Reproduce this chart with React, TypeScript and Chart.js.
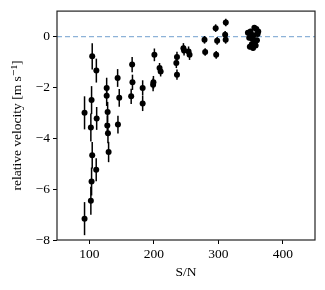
import React, { useEffect, useRef } from "react";
import { Chart, registerables } from "chart.js";

Chart.register(...registerables);

// S/N values
const snr: number[] = [
  92.7, 92.7, 102.5, 102.5, 103.6, 103.6, 104.6, 104.6, 111, 111.5, 110.8,
  127, 127, 128.5, 128, 129, 130, 144, 146.5, 144.5,
  166.5, 167, 165, 182.8, 182.8, 201, 199.5, 199, 209, 210.7,
  236, 235, 236, 246, 247, 254, 255.5,
  278.7, 279.7, 296, 298.3, 296.8, 311.7, 310.7, 311.5,
  346, 348, 350, 352, 349, 355, 357, 359, 361, 360, 354, 356, 351, 358, 353, 362,
];
// relative velocity [m/s]
const velocity: number[] = [
  -3.0, -7.16, -3.58, -6.46, -2.5, -5.7, -0.78, -4.67, -1.34, -3.22, -5.24,
  -2.02, -2.33, -2.97, -3.5, -3.8, -4.54, -1.63, -2.41, -3.46,
  -1.1, -1.8, -2.35, -2.02, -2.63, -0.72, -1.8, -1.9, -1.24, -1.37,
  -0.8, -1.04, -1.5, -0.46, -0.55, -0.59, -0.72,
  -0.13, -0.61, 0.33, -0.17, -0.72, 0.55, 0.07, -0.13,
  0.15, -0.05, 0.2, -0.3, -0.4, 0.05, -0.2, 0.3, 0.1, -0.15, -0.45, 0.35, 0.05, -0.35, -0.1, 0.2,
];
// 1-sigma uncertainty [m/s]
const velocityErr: number[] = [
  0.65, 0.65, 0.55, 0.55, 0.55, 0.55, 0.52, 0.52, 0.47, 0.45, 0.45,
  0.4, 0.4, 0.4, 0.4, 0.4, 0.4, 0.35, 0.35, 0.35,
  0.3, 0.3, 0.3, 0.3, 0.3, 0.25, 0.25, 0.25, 0.2, 0.2,
  0.2, 0.2, 0.2, 0.2, 0.2, 0.2, 0.2,
  0.15, 0.15, 0.15, 0.15, 0.15, 0.15, 0.15, 0.15,
  0.1, 0.1, 0.1, 0.1, 0.1, 0.1, 0.1, 0.1, 0.1, 0.1, 0.1, 0.1, 0.1, 0.1, 0.1, 0.1,
];
const xTicks: number[] = [100, 200, 300, 400];
const yTicks: number[] = [-8, -6, -4, -2, 0];

const FONT = "'Liberation Serif', 'DejaVu Serif', serif";
const FSIZE = 13.5;

const errorBarPlugin = {
  id: "errorBars",
  beforeDatasetsDraw(chart: any) {
    const { ctx, chartArea, scales } = chart;
    const xs = scales.x;
    const ys = scales.y;
    ctx.save();
    ctx.beginPath();
    ctx.rect(chartArea.left, chartArea.top, chartArea.right - chartArea.left, chartArea.bottom - chartArea.top);
    ctx.clip();
    // zero reference line
    const y0 = ys.getPixelForValue(0);
    ctx.strokeStyle = "#8db2d8";
    ctx.lineWidth = 1.2;
    ctx.setLineDash([5, 3]);
    ctx.beginPath();
    ctx.moveTo(chartArea.left, y0);
    ctx.lineTo(chartArea.right, y0);
    ctx.stroke();
    ctx.setLineDash([]);
    // error bars
    ctx.strokeStyle = "#000";
    ctx.lineWidth = 1.5;
    for (let i = 0; i < snr.length; i++) {
      const px = xs.getPixelForValue(snr[i]);
      const pTop = ys.getPixelForValue(velocity[i] + velocityErr[i]);
      const pBot = ys.getPixelForValue(velocity[i] - velocityErr[i]);
      ctx.beginPath();
      ctx.moveTo(px, pTop);
      ctx.lineTo(px, pBot);
      ctx.stroke();
    }
    ctx.restore();
  },
  afterDraw(chart: any) {
    const { ctx, chartArea } = chart;
    ctx.save();
    ctx.strokeStyle = "#222";
    ctx.lineWidth = 1.2;
    ctx.strokeRect(chartArea.left, chartArea.top, chartArea.right - chartArea.left, chartArea.bottom - chartArea.top);
    ctx.restore();
  },
};

export default function App() {
  const ref = useRef<HTMLCanvasElement | null>(null);
  useEffect(() => {
    if (!ref.current) return;
    const data = snr.map((x, i) => ({ x, y: velocity[i] }));
    const chart = new Chart(ref.current, {
      type: "scatter",
      data: {
        datasets: [
          {
            data,
            backgroundColor: "#000",
            borderColor: "#000",
            pointRadius: 3,
            pointHoverRadius: 3,
            borderWidth: 0,
          },
        ],
      },
      options: {
        animation: false,
        responsive: false,
        devicePixelRatio: 1,
        layout: { padding: { left: 0, right: 10, top: 9, bottom: 0 } },
        plugins: { legend: { display: false }, tooltip: { enabled: false } },
        scales: {
          x: {
            type: "linear",
            min: 50,
            max: 450,
            afterBuildTicks: (s: any) => {
              s.ticks = xTicks.map((v) => ({ value: v }));
            },
            afterFit: (s: any) => {
              s.height = 50;
            },
            border: { display: false },
            grid: { drawOnChartArea: false, drawTicks: true, tickLength: 4, color: "#000", lineWidth: 1 },
            ticks: {
              color: "#000",
              padding: 2,
              font: { family: FONT, size: FSIZE },
              callback: (v: any) => String(v),
            },
            title: {
              display: true,
              text: "S/N",
              color: "#000",
              font: { family: FONT, size: FSIZE },
              padding: { top: 0, bottom: 9 },
            },
          },
          y: {
            type: "linear",
            min: -8,
            max: 1,
            afterBuildTicks: (s: any) => {
              s.ticks = yTicks.map((v) => ({ value: v }));
            },
            afterFit: (s: any) => {
              s.width = 57;
            },
            border: { display: false },
            grid: { drawOnChartArea: false, drawTicks: true, tickLength: 4, color: "#000", lineWidth: 1 },
            ticks: {
              color: "#000",
              padding: 3,
              font: { family: FONT, size: FSIZE },
              callback: (v: any) => (v < 0 ? "\u2212" + Math.abs(v) : String(v)),
            },
            title: {
              display: true,
              text: "relative velocity [m s\u207B\u00B9]",
              color: "#000",
              font: { family: FONT, size: FSIZE },
              padding: { top: 9, bottom: 0 },
            },
          },
        },
      },
      plugins: [errorBarPlugin],
    });
    return () => chart.destroy();
  }, []);
  return (
    <div style={{ position: "absolute", left: 0, top: 0, width: 325, height: 290, background: "#fff" }}>
      <canvas ref={ref} width={325} height={290} />
    </div>
  );
}
